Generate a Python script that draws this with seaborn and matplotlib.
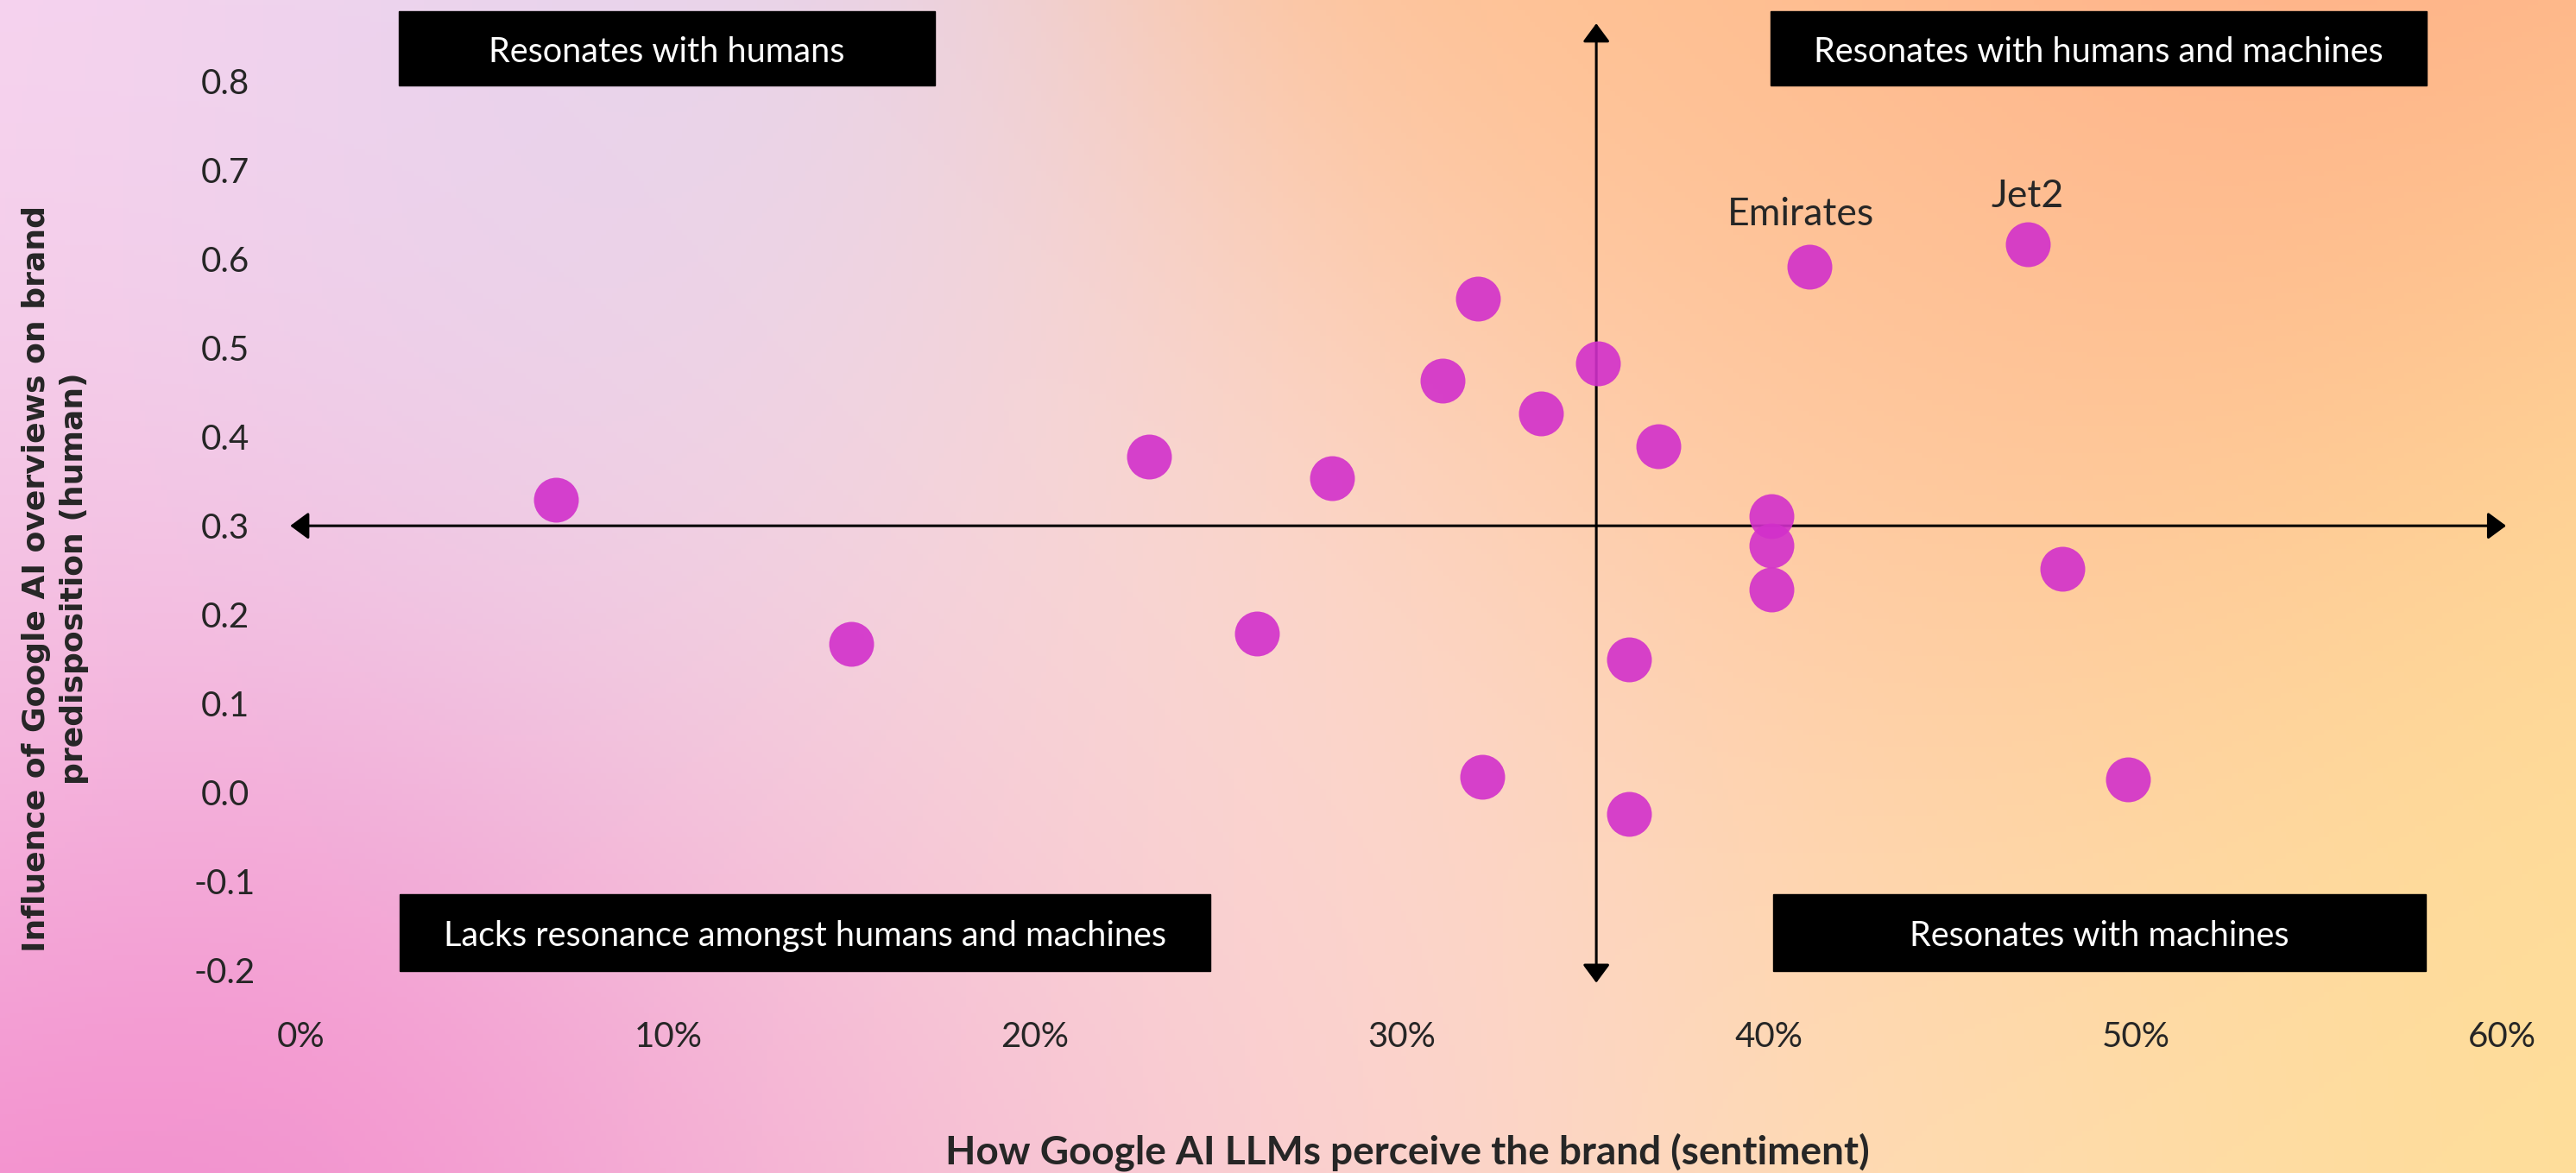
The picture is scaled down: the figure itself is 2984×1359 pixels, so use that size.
import numpy as np
import pandas as pd
import matplotlib
matplotlib.use("Agg")
import matplotlib.pyplot as plt
import seaborn as sns
from matplotlib.patches import Rectangle
from matplotlib.colors import to_rgb

# data
sentiment = [6.95, 15.0, 23.1, 26.05, 28.1, 31.1, 32.07, 33.8, 32.2, 35.34,
             37.0, 36.2, 36.2, 41.1, 47.06, 40.07, 40.07, 40.07, 48.0, 49.8]
influence = [0.329, 0.167, 0.378, 0.179, 0.354, 0.463, 0.555, 0.426, 0.0175, 0.483,
             0.389, 0.150, -0.024, 0.591, 0.617, 0.311, 0.278, 0.228, 0.252, 0.0146]
brand = [None] * 13 + ["Emirates", "Jet2"] + [None] * 5

x_ticks = [0, 10, 20, 30, 40, 50, 60]
x_tick_labels = ["0%", "10%", "20%", "30%", "40%", "50%", "60%"]
y_ticks = [-0.2, -0.1, 0.0, 0.1, 0.2, 0.3, 0.4, 0.5, 0.6, 0.7, 0.8]
y_tick_labels = ["-0.2", "-0.1", "0.0", "0.1", "0.2", "0.3", "0.4", "0.5", "0.6", "0.7", "0.8"]

quadrant_labels = ["Resonates with humans", "Resonates with humans and machines",
                   "Lacks resonance amongst humans and machines", "Resonates with machines"]

# quadrant split
x_split = 35.3
y_split = 0.3

df = pd.DataFrame({"sentiment": sentiment, "influence": influence, "brand": brand})

sns.set_style("white")
plt.rcParams["font.family"] = ["Lato", "DejaVu Sans"]

W, H = 2984, 1359
fig = plt.figure(figsize=(W / 100, H / 100), dpi=100)

# gradient background
anchors = [
    (0.00, 0.00, "#F9D5F0"),
    (0.23, 0.11, "#E3D3EE"),
    (0.00, 0.55, "#F6C6E4"),
    (0.08, 0.97, "#F281C8"),
    (0.30, 0.97, "#F4AED6"),
    (0.50, 0.97, "#FBD3D3"),
    (0.30, 0.45, "#F1D5E6"),
    (0.48, 0.55, "#FDDCCD"),
    (0.62, 0.03, "#FFC08F"),
    (0.88, 0.12, "#FFAA84"),
    (0.75, 0.45, "#FFCDA3"),
    (0.99, 0.50, "#FFDE98"),
    (0.99, 0.97, "#FFDE98"),
    (0.75, 0.97, "#FFDDB0"),
]
gy, gx = np.mgrid[0:1:220j, 0:1:480j]
num = np.zeros(gx.shape + (3,))
den = np.zeros(gx.shape)
for ax_, ay_, c in anchors:
    d2 = ((gx - ax_) * W / H) ** 2 + (gy - ay_) ** 2
    w = np.exp(-d2 / (2 * 0.28 ** 2))
    num += w[..., None] * np.array(to_rgb(c))
    den += w
grid = num / den[..., None]

bg = fig.add_axes([0, 0, 1, 1], zorder=0)
bg.imshow(grid, extent=[0, 1, 0, 1], aspect="auto", origin="upper")
bg.axis("off")

ax = fig.add_axes([0.1027, 0.150, 0.8830, 0.8414], zorder=1)
ax.patch.set_alpha(0)

sns.scatterplot(data=df, x="sentiment", y="influence", ax=ax, s=1400,
                color="#D230CB", alpha=0.9, linewidth=0, zorder=3)

for _, row in df.dropna(subset=["brand"]).iterrows():
    off = (-7, 44) if row["brand"] == "Emirates" else (0, 40)
    ax.annotate(row["brand"], (row["sentiment"], row["influence"]), xytext=off,
                textcoords="offset points", ha="center", va="center", fontsize=32)

ax.set_xlim(-1, 61)
ax.set_ylim(-0.23, 0.88)

arrow = dict(arrowstyle="<|-|>,head_length=0.65,head_width=0.48", mutation_scale=20,
             color="black", lw=2.2, shrinkA=0, shrinkB=0)
ax.annotate("", xy=(60.1, y_split), xytext=(-0.3, y_split), arrowprops=arrow, zorder=2)
ax.annotate("", xy=(x_split, 0.865), xytext=(x_split, -0.214), arrowprops=arrow, zorder=2)

ax.set_xticks(x_ticks)
ax.set_xticklabels(x_tick_labels, fontsize=29)
ax.set_yticks(y_ticks)
ax.set_yticklabels(y_tick_labels, fontsize=29, ha="center")
ax.tick_params(axis="x", length=0, pad=20)
ax.tick_params(axis="y", length=0, pad=33)
sns.despine(ax=ax, left=True, bottom=True)

ax.set_xlabel("How Google AI LLMs perceive the brand (sentiment)", fontsize=33,
              fontweight="bold", va="center")
ax.xaxis.set_label_coords(0.5026, -0.157)
ax.set_ylabel("Influence of Google AI overviews on brand\npredisposition (human)",
              fontsize=26, fontweight="bold", family="DejaVu Sans", va="center",
              linespacing=1.4)
ax.yaxis.set_label_coords(-0.092, 0.424)

# quadrant boxes (pixel boxes in the figure)
boxes = [(462, 13, 1083, 99), (2051, 13, 2811, 99), (463, 1036, 1402, 1125), (2054, 1036, 2810, 1125)]
for (x0, y0, x1, y1), lab in zip(boxes, quadrant_labels):
    fig.add_artist(Rectangle((x0 / W, 1 - y1 / H), (x1 - x0) / W, (y1 - y0) / H,
                             transform=fig.transFigure, color="black", zorder=5))
    fig.text((x0 + x1) / 2 / W, 1 - ((y0 + y1) / 2 + 4) / H, lab, color="white",
             ha="center", va="center", fontsize=28.5, zorder=6)

fig.savefig("out.png", dpi=100)
